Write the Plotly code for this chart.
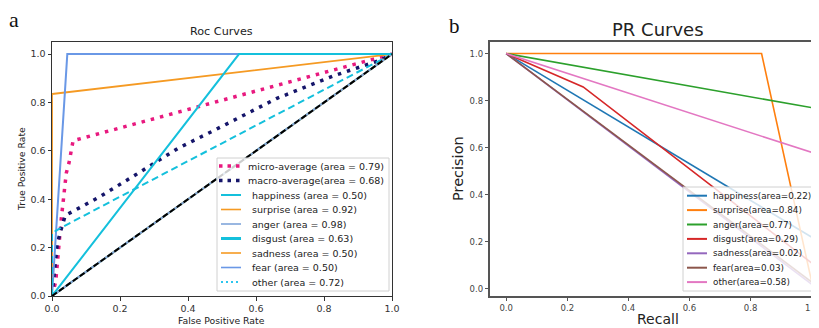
import plotly.graph_objects as go

# ---------------- data ----------------
roc_classes = ["happiness", "surprise", "anger", "disgust", "sadness", "fear", "other"]
roc_auc = [0.50, 0.92, 0.98, 0.63, 0.50, 0.50, 0.72]
roc_fpr = {
    "happiness": [0.0, 1.0],
    "surprise": [0.0, 0.0, 1.0],
    "anger": [0.0, 0.045, 1.0],
    "disgust": [0.0, 0.0, 0.03, 1.0],
    "sadness": [0.0, 1.0],
    "fear": [0.0, 1.0],
    "other": [0.0, 0.55, 1.0],
}
roc_tpr = {
    "happiness": [0.0, 1.0],
    "surprise": [0.0, 0.835, 1.0],
    "anger": [0.0, 1.0, 1.0],
    "disgust": [0.0, 0.26, 0.285, 1.0],
    "sadness": [0.0, 1.0],
    "fear": [0.0, 1.0],
    "other": [0.0, 1.0, 1.0],
}
micro_fpr = [0.0, 0.011, 0.027, 0.042, 0.05, 0.055, 0.062, 1.0]
micro_tpr = [0.0, 0.06, 0.315, 0.508, 0.55, 0.59, 0.642, 1.0]
micro_auc = 0.79
macro_fpr = [0.0, 0.015, 0.025, 0.039, 0.067, 0.14, 0.245, 0.37, 0.48, 0.66, 0.828, 0.966, 1.0]
macro_tpr = [0.0, 0.212, 0.267, 0.333, 0.354, 0.41, 0.50, 0.61, 0.687, 0.816, 0.91, 0.975, 1.0]
macro_auc = 0.68
chance = [0.0, 1.0]

pr_classes = ["happiness", "surprise", "anger", "disgust", "sadness", "fear", "other"]
pr_area = [0.22, 0.84, 0.77, 0.29, 0.02, 0.03, 0.58]
pr_recall = {
    "happiness": [0.0, 1.0],
    "surprise": [0.0, 0.836, 1.0],
    "anger": [0.0, 1.0],
    "disgust": [0.0, 0.252, 1.0],
    "sadness": [0.0, 1.0],
    "fear": [0.0, 1.0],
    "other": [0.0, 1.0],
}
pr_precision = {
    "happiness": [1.0, 0.22],
    "surprise": [1.0, 1.0, 0.03],
    "anger": [1.0, 0.77],
    "disgust": [1.0, 0.858, 0.11],
    "sadness": [1.0, 0.02],
    "fear": [1.0, 0.03],
    "other": [1.0, 0.58],
}
tick_vals = [0.0, 0.2, 0.4, 0.6, 0.8, 1.0]
tick_text = ["0.0", "0.2", "0.4", "0.6", "0.8", "1.0"]

# ---------------- styles ----------------
OFF = 8  # page body margin offset
W, H = 819 - OFF, 328 - OFF
CYAN = "#14c0dc"
ORANGE = "#f59a23"
BLUE = "#6a98e6"
BLUE_L = "#80a6da"
PINK = "#e8197f"
NAVY = "#15156a"
FONT = "DejaVu Sans"

roc_style = {
    "happiness": dict(color=CYAN, width=2, dash="solid"),
    "surprise": dict(color=ORANGE, width=1.8, dash="solid"),
    "anger": dict(color=BLUE, width=2, dash="solid"),
    "disgust": dict(color=CYAN, width=2, dash="7px,4px"),
    "sadness": dict(color=ORANGE, width=1.8, dash="solid"),
    "fear": dict(color=BLUE_L, width=2, dash="solid"),
    "other": dict(color=CYAN, width=2, dash="solid"),
}
roc_leg_style = {
    "happiness": dict(color=CYAN, width=2, dash="solid"),
    "surprise": dict(color=ORANGE, width=1.6, dash="solid"),
    "anger": dict(color=BLUE_L, width=1.6, dash="solid"),
    "disgust": dict(color=CYAN, width=3, dash="solid"),
    "sadness": dict(color=ORANGE, width=1.6, dash="solid"),
    "fear": dict(color=BLUE, width=1.6, dash="solid"),
    "other": dict(color="#2cc6ee", width=2, dash="2px,3px"),
}
pr_colors = {
    "happiness": "#1f77b4", "surprise": "#ff7f0e", "anger": "#2ca02c",
    "disgust": "#d62728", "sadness": "#9467bd", "fear": "#8c564b", "other": "#e377c2",
}


def px(x):
    return (x - OFF) / W


def py(y):
    return 1 - (y - OFF) / H


fig = go.Figure()

# ROC panel
fig.add_trace(go.Scatter(x=micro_fpr, y=micro_tpr, mode="lines", xaxis="x", yaxis="y",
                         line=dict(color=PINK, width=3.5, dash="3.5px,6px"), showlegend=False))
fig.add_trace(go.Scatter(x=macro_fpr, y=macro_tpr, mode="lines", xaxis="x", yaxis="y",
                         line=dict(color=NAVY, width=3.5, dash="3.5px,6px"), showlegend=False))
for c in roc_classes:
    fig.add_trace(go.Scatter(x=roc_fpr[c], y=roc_tpr[c], mode="lines", xaxis="x", yaxis="y",
                             line=roc_style[c], showlegend=False))
fig.add_trace(go.Scatter(x=chance, y=chance, mode="lines", xaxis="x", yaxis="y",
                         line=dict(color="black", width=2, dash="6px,2.5px"), showlegend=False))

# PR panel
for c in pr_classes:
    fig.add_trace(go.Scatter(x=pr_recall[c], y=pr_precision[c], mode="lines", xaxis="x2", yaxis="y2",
                             line=dict(color=pr_colors[c], width=1.6), showlegend=False))

axis_common = dict(tickvals=tick_vals, ticktext=tick_text, ticks="outside", ticklen=3.5,
                   showgrid=False, zeroline=False, showline=True, automargin=False)

fig.update_layout(
    width=W, height=H, margin=dict(l=0, r=0, t=0, b=0),
    paper_bgcolor="white", plot_bgcolor="white", showlegend=False,
    xaxis=dict(domain=[px(52), px(392)], range=[0, 1.0], anchor="y", mirror=True,
               linecolor="#333", linewidth=1, tickcolor="#333",
               tickfont=dict(family=FONT, size=9.5, color="#333"), **axis_common),
    yaxis=dict(domain=[py(296), py(42)], range=[0, 1.05], anchor="x", mirror=True,
               linecolor="#333", linewidth=1, tickcolor="#333",
               tickfont=dict(family=FONT, size=9.5, color="#333"), **axis_common),
    xaxis2=dict(domain=[px(490), 1.0], range=[-0.053, 1.024], anchor="y2", mirror=True,
                linecolor="#555", linewidth=1.5, tickcolor="#555",
                tickfont=dict(family=FONT, size=8.5, color="#444"), **axis_common),
    yaxis2=dict(domain=[py(296), py(42)], range=[-0.03, 1.049], anchor="x2", mirror=False,
                linecolor="#555", linewidth=1.5, tickcolor="#555",
                tickfont=dict(family=FONT, size=8.5, color="#444"), **axis_common),
)

annotations = []
shapes = []


def text(x, y, s, size, family=FONT, color="#222", angle=0, xanchor="center"):
    annotations.append(dict(x=px(x), y=py(y), xref="paper", yref="paper", text=s, showarrow=False,
                            xanchor=xanchor, yanchor="middle", textangle=angle,
                            font=dict(family=family, size=size, color=color)))


# titles & labels
text(14, 19, "a", 22, family="Liberation Serif", color="#111")
text(454, 26, "b", 21, family="Liberation Serif", color="#111")
text(221, 31, "Roc Curves", 11.2)
text(658, 29, "PR Curves", 18)
text(222, 320, "False Positive Rate", 9.3)
text(21, 169, "True Positive Rate", 9.3, angle=-90)
text(658, 319, "Recall", 14)
text(458, 169, "Precision", 14.5, angle=-90)

# ROC legend
shapes.append(dict(type="rect", xref="paper", yref="paper", x0=px(217), x1=px(389), y0=py(291), y1=py(158),
                   line=dict(color="#d0d0d0", width=1), fillcolor="rgba(255,255,255,0.8)", layer="above"))
roc_labels = ["micro-average (area = {:.2f})".format(micro_auc),
              "macro-average(area = {:.2f})".format(macro_auc)] + \
             ["{} (area = {:.2f})".format(c, a) for c, a in zip(roc_classes, roc_auc)]
roc_leg_lines = [dict(color=PINK, width=3.5, dash="3.5px,5px"), dict(color=NAVY, width=3.5, dash="3.5px,5px")] + \
                [roc_leg_style[c] for c in roc_classes]
for i, (lab, st) in enumerate(zip(roc_labels, roc_leg_lines)):
    yy = 166 + 14.5 * i
    x0 = 219 if i < 2 else 221
    shapes.append(dict(type="line", xref="paper", yref="paper", x0=px(x0), x1=px(241), y0=py(yy), y1=py(yy),
                       line=st, layer="above"))
    text(246 if i < 2 else 249.5, yy, lab, 9.5, xanchor="left")

# PR legend
shapes.append(dict(type="rect", xref="paper", yref="paper", x0=px(683), x1=px(818), y0=py(291), y1=py(187),
                   line=dict(color="#d0d0d0", width=1), fillcolor="rgba(255,255,255,0.8)", layer="above"))
for i, (c, a) in enumerate(zip(pr_classes, pr_area)):
    yy = 195.7 + 14.4 * i
    shapes.append(dict(type="line", xref="paper", yref="paper", x0=px(687), x1=px(707), y0=py(yy), y1=py(yy),
                       line=dict(color=pr_colors[c], width=2), layer="above"))
    text(711, yy, "{}(area={:.2f})".format(c, a), 8.8, xanchor="left")

fig.update_layout(annotations=annotations, shapes=shapes)
fig.write_html("out.html")
